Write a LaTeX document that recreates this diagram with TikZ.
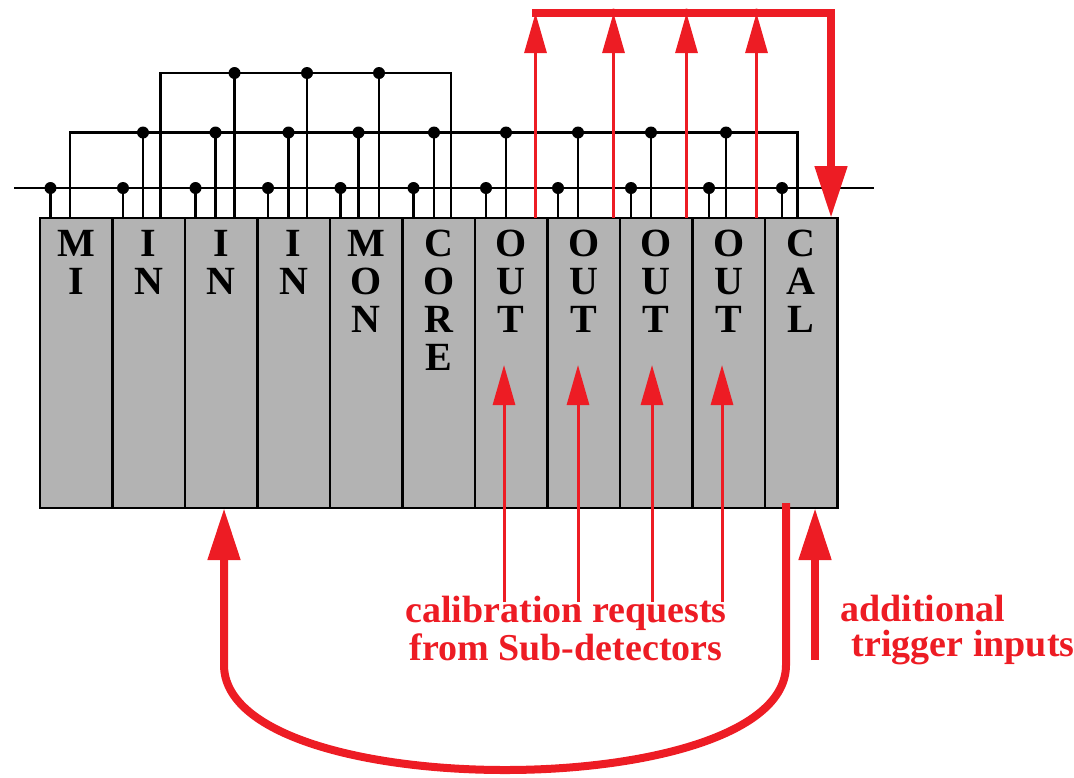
\documentclass[tikz,border=0pt]{standalone}
\usepackage{fontspec}
\setmainfont{Liberation Serif}
\usetikzlibrary{arrows.meta}
\definecolor{trigred}{HTML}{ED1C24}
\definecolor{crategray}{HTML}{B3B3B3}

\begin{document}
\begin{tikzpicture}[x=0.5pt, y=-0.5pt,
  module/.style={draw, line width=1.4pt, fill=crategray, minimum width=36.25pt, minimum height=145pt, anchor=north, outer sep=0pt, inner sep=0pt},
  letters/.style={anchor=north, inner sep=0pt, align=center, font=\bfseries\fontsize{20}{19}\selectfont},
  bus/.style={line width=1.4pt},
  busdot/.style={circle, fill=black, inner sep=0pt, minimum size=6pt},
  reddot/.style={circle, fill=trigred, inner sep=0pt, minimum size=4.5pt},
  rthin/.style={trigred, line width=1.5pt, -{Triangle[width=11pt,length=20pt]}},
  rthick/.style={trigred, line width=4pt, -{Triangle[width=15.5pt,length=26pt]}},
  redlabel/.style={text=trigred, inner sep=0pt, font=\bfseries\fontsize{19}{19}\selectfont}]

\useasboundingbox (0,0) rectangle (1074,777);

% crate
\foreach \nm/\txt [count=\i from 0] in {mi/{M\\I}, in1/{I\\N}, in2/{I\\N}, in3/{I\\N}, mon/{M\\O\\N}, core/{C\\O\\R\\E}, out1/{O\\U\\T}, out2/{O\\U\\T}, out3/{O\\U\\T}, out4/{O\\U\\T}, cal/{C\\A\\L}} {
  \node[module] (\nm) at (76.25+72.5*\i, 218) {};
  \node[letters] at ([yshift=-6pt]\nm.north) {\txt};
}

% buses
\coordinate (busA) at (14,188);
\coordinate (busAend) at (874,188);
\coordinate (busB) at (0,132.5);
\coordinate (busC) at (0,73);
\draw[bus] (busA) -- (busAend);

\path (mi.north west) ++(30,0) coordinate (bL);
\path (cal.north west) ++(32.5,0) coordinate (bR);
\draw[bus] (bL) -- (bL |- busB) -- (bR |- busB) -- (bR);
\path (in1.north west) ++(48,0) coordinate (cL);
\path (core.north west) ++(48.5,0) coordinate (cR);
\draw[bus] (cL) -- (cL |- busC) -- (cR |- busC) -- (cR);

\foreach \nm/\dx in {mi/10.5, in1/10.5, in2/10.5, in3/10.5, mon/10.5, core/11, out1/11, out2/10.5, out3/11, out4/16.5, cal/17} {
  \path (\nm.north west) ++(\dx,0) coordinate (s);
  \draw[bus] (s) -- (s |- busA) node[busdot] {};
}
\foreach \nm/\dx in {in1/30.5, in2/30.5, in3/31, mon/28.5, core/31.5, out1/31, out2/30.5, out3/31, out4/33.5} {
  \path (\nm.north west) ++(\dx,0) coordinate (s);
  \draw[bus] (s) -- (s |- busB) node[busdot] {};
}
\foreach \nm/\dx in {in2/49.5, in3/49.5, mon/49} {
  \path (\nm.north west) ++(\dx,0) coordinate (s);
  \draw[bus] (s) -- (s |- busC) node[busdot] {};
}

% calibration trigger bus
\coordinate (rbusL) at (532,13);
\coordinate (rbusR) at (831,13);
\draw[rthick] (rbusL) -- (rbusR) -- (rbusR |- cal.north);
\foreach \nm/\dx in {out1/60.5, out2/66, out3/66.5, out4/64} {
  \path (\nm.north west) ++(\dx,0) coordinate (u);
  \draw[rthin] (u) -- (u |- rbusL);
}
\foreach \nm/\dx in {out2/66, out3/66.5, out4/64} {
  \path (\nm.north west) ++(\dx,0) coordinate (u);
  \node[reddot] at (u |- rbusL) {};
}

% requests from sub-detectors
\coordinate (reqfoot) at (0,602);
\coordinate (reqtip) at (0,365);
\foreach \nm/\dx in {out1/29, out2/30.5, out3/32, out4/29.5} {
  \path (\nm.north west) ++(\dx,0) coordinate (r);
  \draw[rthin] (r |- reqfoot) -- (r |- reqtip);
}
\node[redlabel, align=center, anchor=north] (calib) at (566,596) {calibration requests\\from Sub-detectors};

% loop back and extra inputs
\coordinate (loopR) at (786,665);
\coordinate (loopL) at (224,665);
\draw[rthick] (cal.south west) ++(21,-5) -- (loopR) .. controls +(0,140) and +(0,140) .. (loopL) -- (loopL |- in2.south);
\coordinate (trigfoot) at (815,660);
\draw[rthick] (trigfoot) -- (trigfoot |- cal.south);
\node[redlabel, align=left, anchor=north west, font=\bfseries\fontsize{19}{17.5}\selectfont] (trig) at (840,595) {additional\\\hspace*{0.3em}trigger inputs};
\end{tikzpicture}
\end{document}
